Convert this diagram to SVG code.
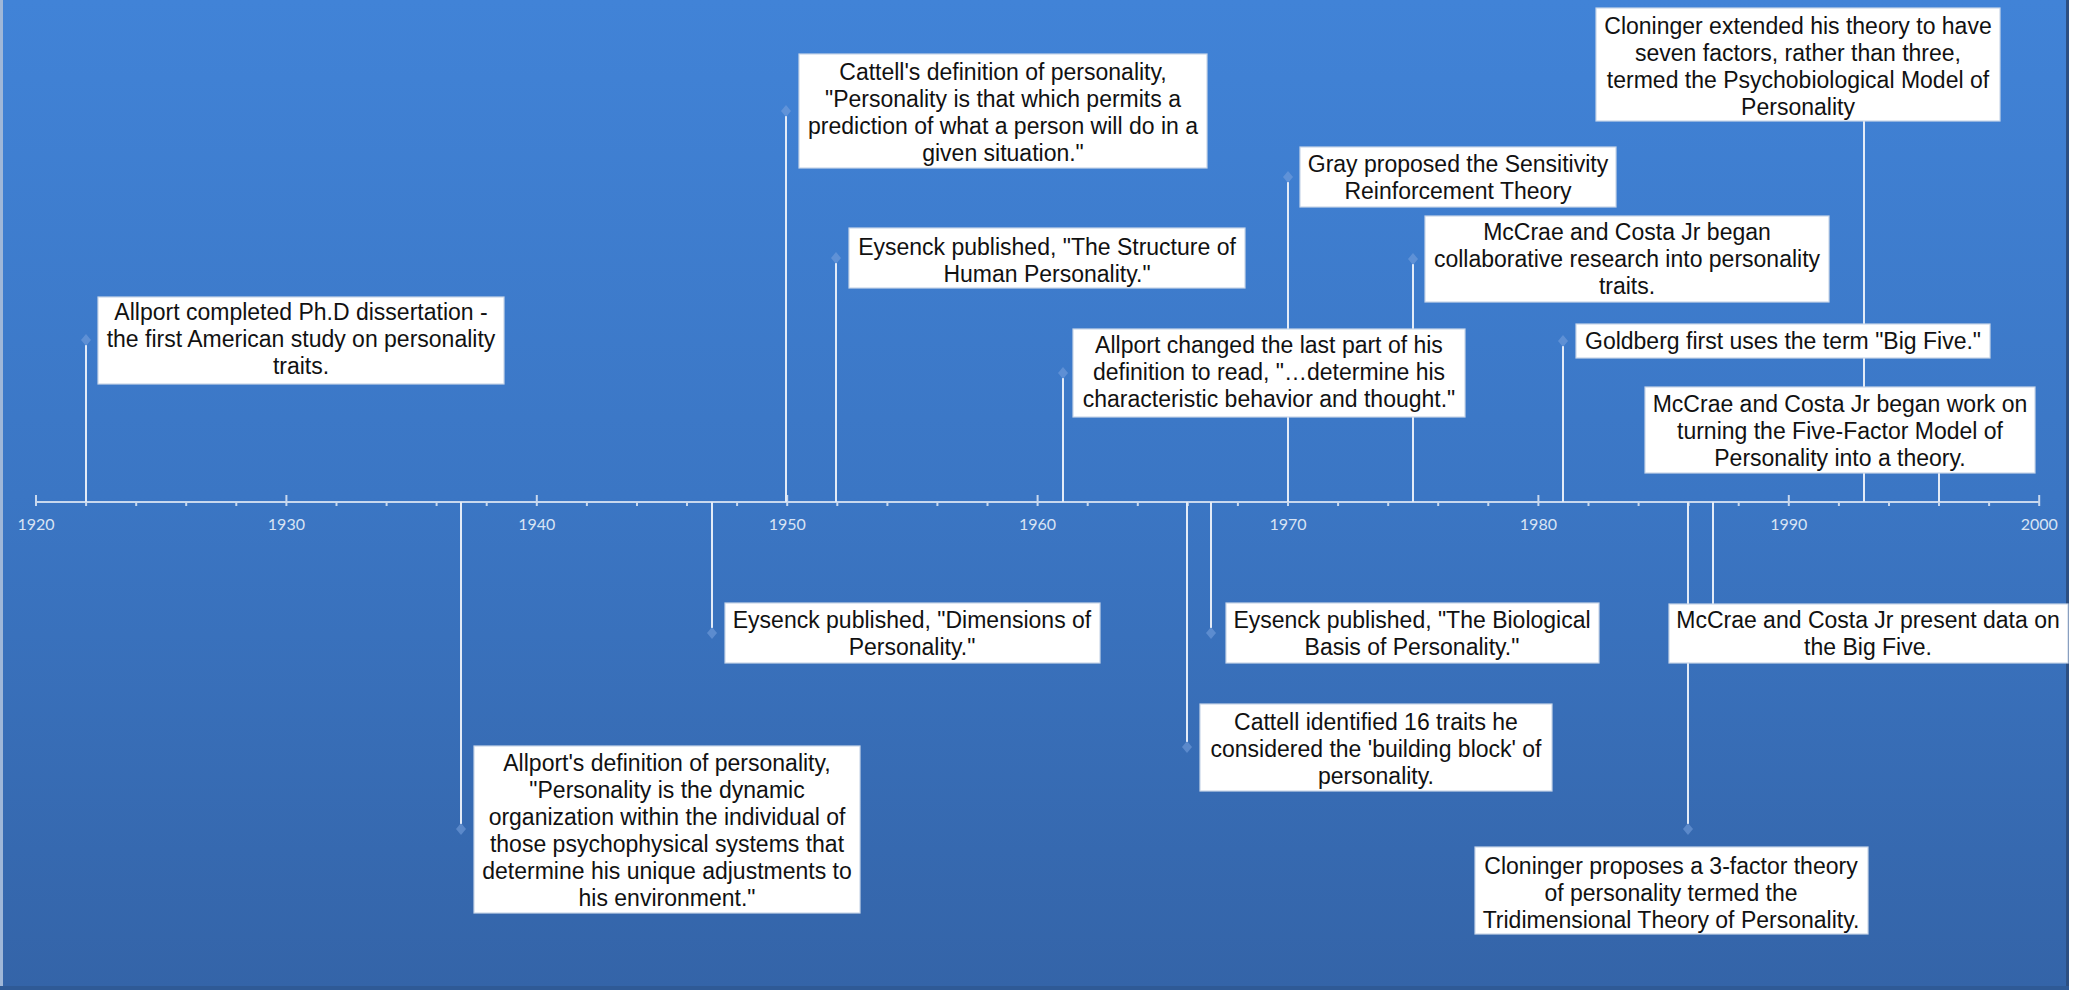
<svg xmlns="http://www.w3.org/2000/svg" xmlns:xlink="http://www.w3.org/1999/xlink" width="2083" height="990" viewBox="0 0 2083 990">
<defs>
<linearGradient id="bg" x1="0" y1="0" x2="0" y2="1">
<stop offset="0" stop-color="#4183d7"/>
<stop offset="0.5" stop-color="#3b76c4"/>
<stop offset="1" stop-color="#3464a8"/>
</linearGradient>
<path id="dm" d="M0,-6 L5,0 L0,6 L-5,0 Z" fill="#7aa3de" fill-opacity="0.55"/>
<style>
.box{fill:#ffffff;stroke:#c9d6e8;stroke-width:1.2}
.t{font-family:"Liberation Sans",Arial,sans-serif;font-size:23px;fill:#111111;text-anchor:middle}
.yr{font-family:Lato,"Liberation Sans",sans-serif;font-size:16px;fill:#d8e4f4;text-anchor:middle}
.ev{stroke:#e3ebf7;stroke-width:2;fill:none}
.ax{stroke:#c8d8ee;stroke-width:2;fill:none}
</style>
</defs>
<rect x="0" y="0" width="2083" height="990" fill="#ffffff"/>
<rect x="0" y="0" width="2069" height="990" fill="url(#bg)"/>
<rect x="0" y="0" width="3" height="990" fill="#9fb7d8"/>
<rect x="2066" y="0" width="3" height="990" fill="#2c4f82"/>
<rect x="0" y="986" width="2069" height="4" fill="#2f5a96"/>

<g id="axis">
<line class="ax" x1="36" y1="502" x2="2039" y2="502"/>
<path class="ax" d="M36,495V506 M286.4,495V506 M536.8,495V506 M787.2,495V506 M1037.6,495V506 M1288,495V506 M1538.4,495V506 M1788.8,495V506 M2039.2,495V506"/>
<path class="ax" stroke-width="1.5" d="M86.1,502V506 M136.2,502V506 M186.2,502V506 M236.3,502V506 M336.5,502V506 M386.6,502V506 M436.6,502V506 M486.7,502V506 M586.9,502V506 M637,502V506 M687,502V506 M737.1,502V506 M837.3,502V506 M887.4,502V506 M937.4,502V506 M987.5,502V506 M1087.7,502V506 M1137.8,502V506 M1187.8,502V506 M1237.9,502V506 M1338.1,502V506 M1388.2,502V506 M1438.2,502V506 M1488.3,502V506 M1588.5,502V506 M1638.6,502V506 M1688.6,502V506 M1738.7,502V506 M1838.9,502V506 M1889,502V506 M1939,502V506 M1989.1,502V506"/>
<text class="yr" x="36" y="530">1920</text>
<text class="yr" x="286.4" y="530">1930</text>
<text class="yr" x="536.8" y="530">1940</text>
<text class="yr" x="787.2" y="530">1950</text>
<text class="yr" x="1037.6" y="530">1960</text>
<text class="yr" x="1288" y="530">1970</text>
<text class="yr" x="1538.4" y="530">1980</text>
<text class="yr" x="1788.8" y="530">1990</text>
<text class="yr" x="2039.2" y="530">2000</text>
</g>

<g id="connectors">
<line class="ev" x1="86" y1="502" x2="86" y2="345"/>
<line class="ev" x1="786" y1="502" x2="786" y2="116"/>
<line class="ev" x1="836" y1="502" x2="836" y2="263"/>
<line class="ev" x1="1063" y1="502" x2="1063" y2="378"/>
<line class="ev" x1="1288" y1="502" x2="1288" y2="182"/>
<line class="ev" x1="1413" y1="502" x2="1413" y2="264"/>
<line class="ev" x1="1563" y1="502" x2="1563" y2="346"/>
<line class="ev" x1="1864" y1="502" x2="1864" y2="70"/>
<line class="ev" x1="1939" y1="502" x2="1939" y2="430"/>
<line class="ev" x1="461" y1="502" x2="461" y2="824"/>
<line class="ev" x1="712" y1="502" x2="712" y2="628"/>
<line class="ev" x1="1187" y1="502" x2="1187" y2="742"/>
<line class="ev" x1="1211" y1="502" x2="1211" y2="628"/>
<line class="ev" x1="1688" y1="502" x2="1688" y2="824"/>
<line class="ev" x1="1713" y1="502" x2="1713" y2="633"/>
<use xlink:href="#dm" x="86" y="340"/>
<use xlink:href="#dm" x="786" y="111"/>
<use xlink:href="#dm" x="836" y="258"/>
<use xlink:href="#dm" x="1063" y="373"/>
<use xlink:href="#dm" x="1288" y="177"/>
<use xlink:href="#dm" x="1413" y="259"/>
<use xlink:href="#dm" x="1563" y="341"/>
<use xlink:href="#dm" x="461" y="829"/>
<use xlink:href="#dm" x="712" y="633"/>
<use xlink:href="#dm" x="1187" y="747"/>
<use xlink:href="#dm" x="1211" y="633"/>
<use xlink:href="#dm" x="1688" y="829"/>
</g>

<g id="n1922">
<rect class="box" x="98" y="297" width="406" height="87"/>
<text class="t" x="301"><tspan x="301" y="320">Allport completed Ph.D dissertation -</tspan><tspan x="301" y="347">the first American study on personality</tspan><tspan x="301" y="374">traits.</tspan></text>
</g>
<g id="n1950">
<rect class="box" x="799" y="54" width="408" height="114"/>
<text class="t"><tspan x="1003" y="80">Cattell's definition of personality,</tspan><tspan x="1003" y="107">"Personality is that which permits a</tspan><tspan x="1003" y="134">prediction of what a person will do in a</tspan><tspan x="1003" y="161">given situation."</tspan></text>
</g>
<g id="n1952">
<rect class="box" x="849" y="228" width="396" height="60"/>
<text class="t"><tspan x="1047" y="255">Eysenck published, "The Structure of</tspan><tspan x="1047" y="282">Human Personality."</tspan></text>
</g>
<g id="n1961">
<rect class="box" x="1073" y="329" width="392" height="88"/>
<text class="t"><tspan x="1269" y="353">Allport changed the last part of his</tspan><tspan x="1269" y="380">definition to read, "…determine his</tspan><tspan x="1269" y="407">characteristic behavior and thought."</tspan></text>
</g>
<g id="n1970">
<rect class="box" x="1300" y="147" width="316" height="60"/>
<text class="t"><tspan x="1458" y="172">Gray proposed the Sensitivity</tspan><tspan x="1458" y="199">Reinforcement Theory</tspan></text>
</g>
<g id="n1975">
<rect class="box" x="1425" y="216" width="404" height="86"/>
<text class="t"><tspan x="1627" y="240">McCrae and Costa Jr began</tspan><tspan x="1627" y="267">collaborative research into personality</tspan><tspan x="1627" y="294">traits.</tspan></text>
</g>
<g id="n1981">
<rect class="box" x="1576" y="324" width="414" height="34"/>
<text class="t" x="1783" y="349">Goldberg first uses the term "Big Five."</text>
</g>
<g id="n1993">
<rect class="box" x="1596" y="8" width="404" height="113"/>
<text class="t"><tspan x="1798" y="34">Cloninger extended his theory to have</tspan><tspan x="1798" y="61">seven factors, rather than three,</tspan><tspan x="1798" y="88">termed the Psychobiological Model of</tspan><tspan x="1798" y="115">Personality</tspan></text>
</g>
<g id="n1996">
<rect class="box" x="1645" y="387" width="390" height="86"/>
<text class="t"><tspan x="1840" y="412">McCrae and Costa Jr began work on</tspan><tspan x="1840" y="439">turning the Five-Factor Model of</tspan><tspan x="1840" y="466">Personality into a theory.</tspan></text>
</g>
<g id="n1937">
<rect class="box" x="474" y="746" width="386" height="167"/>
<text class="t"><tspan x="667" y="771">Allport's definition of personality,</tspan><tspan x="667" y="798">"Personality is the dynamic</tspan><tspan x="667" y="825">organization within the individual of</tspan><tspan x="667" y="852">those psychophysical systems that</tspan><tspan x="667" y="879">determine his unique adjustments to</tspan><tspan x="667" y="906">his environment."</tspan></text>
</g>
<g id="n1947">
<rect class="box" x="725" y="603" width="375" height="60"/>
<text class="t"><tspan x="912" y="628">Eysenck published, "Dimensions of</tspan><tspan x="912" y="655">Personality."</tspan></text>
</g>
<g id="n1966">
<rect class="box" x="1200" y="704" width="352" height="87"/>
<text class="t"><tspan x="1376" y="730">Cattell identified 16 traits he</tspan><tspan x="1376" y="757">considered the 'building block' of</tspan><tspan x="1376" y="784">personality.</tspan></text>
</g>
<g id="n1967">
<rect class="box" x="1226" y="603" width="373" height="60"/>
<text class="t"><tspan x="1412" y="628">Eysenck published, "The Biological</tspan><tspan x="1412" y="655">Basis of Personality."</tspan></text>
</g>
<g id="n1986">
<rect class="box" x="1475" y="847" width="393" height="87"/>
<text class="t"><tspan x="1671" y="874">Cloninger proposes a 3-factor theory</tspan><tspan x="1671" y="901">of personality termed the</tspan><tspan x="1671" y="928">Tridimensional Theory of Personality.</tspan></text>
</g>
<g id="n1987">
<rect class="box" x="1669" y="604" width="399" height="59"/>
<text class="t"><tspan x="1868" y="628">McCrae and Costa Jr present data on</tspan><tspan x="1868" y="655">the Big Five.</tspan></text>
</g>
</svg>
